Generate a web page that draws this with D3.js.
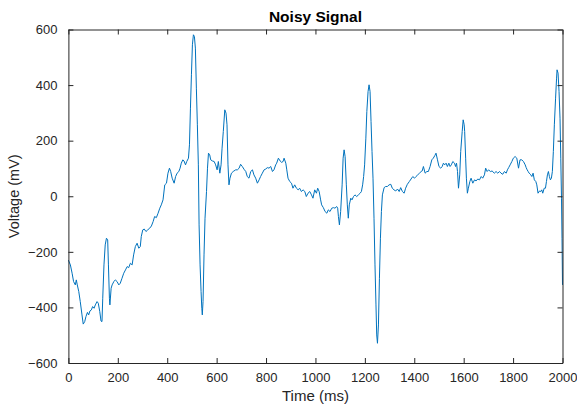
<!DOCTYPE html>
<html><head><meta charset="utf-8">
<script src="https://cdn.jsdelivr.net/npm/d3@7"></script>
<style>body{margin:0;background:#fff}svg{display:block}text{font-family:"Liberation Sans",Arial,sans-serif}</style>
</head><body><svg id="c" width="577" height="405"></svg>
<script>
const timeMs = [0,8,15,21,28,32,36,42,48,55,60,66,71,77,82,87,93,98,104,109,116,121,127,132,136,139,144,149,154,159,162,166,168,173,177,184,190,197,204,210,217,224,231,238,244,251,258,264,271,278,285,291,295,301,307,314,321,329,336,343,349,356,363,370,376,383,390,397,403,409,414,420,428,434,440,447,452,457,463,468,474,479,486,490,494,498,502,506,510,514,518,522,526,529,533,537,540,542,545,549,553,559,563,567,572,576,583,590,596,602,607,613,618,622,627,633,638,642,646,650,654,660,667,677,684,691,697,704,711,718,724,731,738,745,751,758,765,772,778,785,792,799,805,812,819,826,832,839,843,850,857,863,869,873,880,884,889,896,903,909,916,923,930,936,943,950,957,963,970,977,984,990,997,1004,1009,1015,1021,1025,1032,1039,1046,1052,1059,1066,1073,1079,1086,1090,1093,1097,1102,1108,1112,1116,1120,1125,1129,1133,1137,1143,1148,1154,1160,1167,1174,1181,1186,1191,1195,1199,1204,1208,1213,1217,1221,1225,1229,1233,1237,1241,1245,1248,1251,1255,1259,1263,1267,1271,1278,1284,1291,1298,1305,1311,1318,1325,1332,1339,1345,1352,1359,1365,1372,1380,1387,1394,1401,1407,1414,1421,1428,1432,1437,1444,1451,1457,1464,1471,1477,1483,1488,1494,1500,1507,1513,1518,1523,1529,1534,1540,1545,1550,1556,1563,1567,1571,1575,1579,1584,1588,1594,1598,1602,1604,1608,1611,1615,1619,1625,1630,1637,1644,1650,1657,1664,1671,1677,1684,1689,1695,1701,1708,1715,1724,1731,1738,1745,1751,1758,1765,1772,1777,1782,1788,1795,1801,1808,1815,1822,1828,1835,1842,1849,1853,1857,1861,1865,1870,1876,1881,1886,1892,1896,1901,1907,1912,1916,1920,1926,1931,1935,1939,1943,1947,1951,1955,1959,1963,1967,1972,1976,1978,1982,1986,1990,1993,1996,1998,2000];
const voltage = [-230,-247,-277,-307,-319,-301,-319,-343,-379,-427,-460,-451,-433,-418,-427,-413,-409,-397,-403,-391,-379,-385,-415,-449,-451,-367,-247,-175,-151,-157,-247,-367,-391,-331,-319,-307,-301,-307,-319,-313,-295,-277,-265,-253,-257,-241,-247,-211,-181,-169,-187,-181,-145,-121,-118,-127,-121,-115,-107,-91,-73,-77,-61,-43,-31,-13,41,47,83,101,89,65,47,71,83,89,101,119,131,127,113,125,137,185,317,437,545,581,575,533,389,257,113,-103,-247,-343,-403,-427,-379,-211,-79,17,101,155,149,131,127,125,113,95,125,83,113,173,233,311,299,257,113,41,65,83,89,95,95,101,115,107,97,89,71,65,89,95,77,65,47,59,71,83,95,98,103,101,107,89,95,113,119,137,127,122,125,137,119,95,65,53,47,29,41,29,23,29,17,23,17,-1,11,17,5,-7,23,11,29,17,-13,-31,-41,-55,-61,-49,-55,-43,-41,-43,-37,-43,-73,-103,-55,41,137,167,143,41,-31,-79,-31,-7,-13,-1,5,-1,5,11,17,41,71,113,209,305,377,401,377,269,161,65,-79,-247,-391,-499,-529,-463,-295,-151,-55,5,31,35,35,41,43,29,23,19,26,17,31,17,11,29,43,53,62,71,65,71,77,83,89,91,107,83,89,89,107,131,137,146,155,131,107,101,107,119,113,119,107,119,107,113,125,119,107,119,89,29,77,161,233,275,257,233,137,65,11,29,53,65,47,59,55,62,59,71,65,77,101,89,95,89,91,83,89,83,89,83,79,89,83,95,103,113,125,137,143,137,101,131,131,125,113,103,95,89,83,79,71,83,59,53,41,11,19,17,23,11,29,29,53,77,89,71,59,65,89,161,257,353,425,455,443,377,281,137,-7,-151,-319,-427,-487,-511,-439,-379,-259];
const xTicks = [0,200,400,600,800,1000,1200,1400,1600,1800,2000];
const yTicks = [-600,-400,-200,0,200,400,600];

const svg = d3.select("#c");
const L=68.4, R=562.5, T=29.5, B=363;
const x = d3.scaleLinear().domain([0,2000]).range([L,R]);
const y = d3.scaleLinear().domain([-600,600]).range([B,T]);
const axisCol = "#262626";
const fs = "13px";

const data = timeMs.map((t,i)=>({t, v: voltage[i]}));
svg.append("path").datum(data)
  .attr("fill","none").attr("stroke","#0072BD").attr("stroke-width",1)
  .attr("d", d3.line().x(d=>x(d.t)).y(d=>y(d.v)));

function styleAxis(g, showLabels){
  g.select(".domain").attr("stroke",axisCol).attr("stroke-width",1);
  g.selectAll(".tick line").attr("stroke",axisCol);
  g.selectAll(".tick text").attr("fill",axisCol).style("font-size",fs)
    .style("font-family",'"Liberation Sans",Arial,sans-serif');
  if(!showLabels) g.selectAll(".tick text").remove();
}
const tl = 5;
styleAxis(svg.append("g").attr("transform",`translate(0,${B})`)
  .call(d3.axisBottom(x).tickValues(xTicks).tickFormat(d3.format("d")).tickSizeInner(-tl).tickSizeOuter(0).tickPadding(tl+5)), true);
styleAxis(svg.append("g").attr("transform",`translate(0,${T})`)
  .call(d3.axisTop(x).tickValues(xTicks).tickSizeInner(-tl).tickSizeOuter(0)), false);
styleAxis(svg.append("g").attr("transform",`translate(${L},0)`)
  .call(d3.axisLeft(y).tickValues(yTicks).tickFormat(d3.format("d")).tickSizeInner(-tl).tickSizeOuter(0).tickPadding(tl+6)), true);
styleAxis(svg.append("g").attr("transform",`translate(${R},0)`)
  .call(d3.axisRight(y).tickValues(yTicks).tickSizeInner(-tl).tickSizeOuter(0)), false);

svg.append("text").attr("x",(L+R)/2).attr("y",22).attr("text-anchor","middle")
  .style("font-size","15.5px").style("font-weight","bold").attr("fill","#000").text("Noisy Signal");
svg.append("text").attr("x",(L+R)/2).attr("y",401).attr("text-anchor","middle")
  .style("font-size","15px").attr("fill",axisCol).text("Time (ms)");
svg.append("text").attr("transform",`translate(19,${(T+B)/2}) rotate(-90)`).attr("text-anchor","middle")
  .style("font-size","14.5px").attr("fill",axisCol).text("Voltage (mV)");
</script></body></html>
